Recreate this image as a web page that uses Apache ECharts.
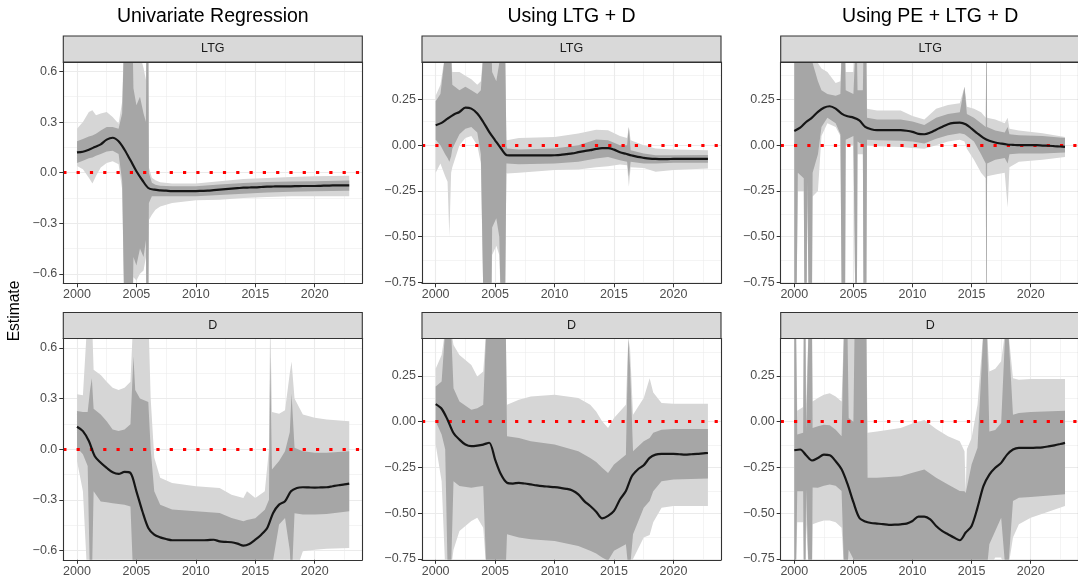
<!DOCTYPE html>
<html><head><meta charset="utf-8">
<script src="https://cdn.jsdelivr.net/npm/echarts@6/dist/echarts.min.js"></script>
<style>html,body{margin:0;padding:0;background:#fff}#c{width:1078px;height:580px}</style>
</head><body><div id="c"></div>
<script>
// ---------- text / ticks ----------
const columnTitles = ['Univariate Regression', 'Using LTG + D', 'Using PE + LTG + D'];
const rowLabels = ['LTG', 'D'];
const yTitle = 'Estimate';
const xTicks = [2000, 2005, 2010, 2015, 2020];
const xMinor = [2002.5, 2007.5, 2012.5, 2017.5, 2022.5];
const yTicksUni = [-0.6, -0.3, 0, 0.3, 0.6];
const yMinorUni = [-0.45, -0.15, 0.15, 0.45];
const yTicksMulti = [-0.75, -0.5, -0.25, 0, 0.25];
const yMinorMulti = [-0.625, -0.375, -0.125, 0.125, 0.375];

// ---------- point estimates (black line) ----------
const lineYears = [2000,2000.5,2001,2001.5,2002,2002.5,2003,2003.5,2004,2004.5,2005,2005.5,2006,2006.5,2007,2007.5,2008,2008.5,2009,2009.5,2010,2010.5,2011,2011.5,2012,2012.5,2013,2013.5,2014,2014.5,2015,2015.5,2016,2016.5,2017,2017.5,2018,2018.5,2019,2019.5,2020,2020.5,2021,2021.5,2022,2022.5,2022.9];
const lineLtgUni = [0.120,0.124,0.136,0.152,0.168,0.196,0.207,0.186,0.136,0.073,0.008,-0.045,-0.091,-0.101,-0.105,-0.107,-0.109,-0.109,-0.109,-0.109,-0.109,-0.108,-0.107,-0.104,-0.101,-0.098,-0.095,-0.092,-0.089,-0.088,-0.087,-0.085,-0.083,-0.082,-0.081,-0.081,-0.081,-0.080,-0.079,-0.079,-0.079,-0.078,-0.077,-0.076,-0.075,-0.075,-0.075];
const lineLtgMulti = [0.109,0.122,0.145,0.167,0.182,0.205,0.200,0.173,0.127,0.073,0.027,-0.018,-0.055,-0.056,-0.055,-0.056,-0.056,-0.056,-0.056,-0.056,-0.055,-0.053,-0.049,-0.045,-0.038,-0.032,-0.027,-0.020,-0.016,-0.016,-0.024,-0.038,-0.047,-0.056,-0.064,-0.069,-0.073,-0.075,-0.076,-0.076,-0.075,-0.075,-0.075,-0.075,-0.075,-0.075,-0.075];
const lineLtgPe = [0.078,0.096,0.127,0.151,0.182,0.205,0.213,0.200,0.173,0.158,0.151,0.136,0.100,0.087,0.082,0.082,0.082,0.082,0.082,0.079,0.073,0.062,0.060,0.069,0.085,0.100,0.115,0.122,0.124,0.115,0.091,0.064,0.040,0.024,0.015,0.009,0.004,0.002,0.000,0.000,0.000,0.000,-0.002,-0.003,-0.005,-0.007,-0.009];
const lineDUni = [0.133,0.107,0.048,-0.042,-0.081,-0.111,-0.137,-0.147,-0.135,-0.141,-0.250,-0.368,-0.467,-0.507,-0.523,-0.533,-0.540,-0.540,-0.540,-0.540,-0.540,-0.540,-0.539,-0.537,-0.547,-0.550,-0.552,-0.560,-0.572,-0.562,-0.537,-0.507,-0.467,-0.378,-0.329,-0.309,-0.250,-0.230,-0.226,-0.227,-0.228,-0.227,-0.226,-0.220,-0.214,-0.209,-0.204];
const lineDMulti = [0.096,0.071,0.011,-0.062,-0.098,-0.125,-0.134,-0.131,-0.125,-0.115,-0.207,-0.289,-0.334,-0.338,-0.334,-0.338,-0.343,-0.348,-0.352,-0.355,-0.358,-0.362,-0.367,-0.376,-0.397,-0.434,-0.461,-0.492,-0.528,-0.515,-0.488,-0.425,-0.379,-0.298,-0.261,-0.238,-0.198,-0.180,-0.176,-0.176,-0.176,-0.178,-0.180,-0.178,-0.176,-0.173,-0.171];
const lineDPe = [-0.156,-0.152,-0.183,-0.212,-0.198,-0.180,-0.183,-0.216,-0.260,-0.340,-0.440,-0.525,-0.546,-0.554,-0.557,-0.560,-0.564,-0.563,-0.561,-0.557,-0.543,-0.519,-0.519,-0.534,-0.570,-0.597,-0.615,-0.633,-0.648,-0.606,-0.570,-0.470,-0.352,-0.289,-0.252,-0.225,-0.180,-0.152,-0.143,-0.143,-0.143,-0.142,-0.140,-0.135,-0.129,-0.122,-0.116];

// ---------- confidence bands: [year, outerLow, innerLow, innerHigh, outerHigh] ----------
const bandLtgUni = [
 [2000,0.04,0.057,0.186,0.26],[2000.5,0.02,0.07,0.20,0.30],[2001,-0.03,0.085,0.215,0.36],[2001.3,-0.065,0.09,0.22,0.37],
 [2001.6,-0.02,0.10,0.23,0.34],[2002,0.03,0.11,0.25,0.35],[2002.5,0.057,0.125,0.27,0.36],[2003,0.067,0.13,0.27,0.33],
 [2003.5,0.05,0.11,0.26,0.29],[2003.8,-0.10,-0.05,0.35,0.42],[2004.0,-0.9,-0.9,0.9,0.9],[2004.65,-0.9,-0.9,0.9,0.9],
 [2004.75,-0.62,-0.5,0.5,0.7],[2005.0,-0.64,-0.55,0.4,0.66],[2005.3,-0.6,-0.45,0.45,0.7],[2005.6,-0.58,-0.5,0.35,0.62],
 [2005.8,-0.5,-0.4,0.3,0.55],[2005.85,-0.9,-0.9,0.9,0.9],[2006.0,-0.9,-0.9,0.9,0.9],[2006.05,-0.28,-0.18,0.0,0.03],
 [2006.3,-0.25,-0.14,-0.06,-0.03],[2006.6,-0.22,-0.14,-0.072,-0.045],[2007,-0.20,-0.14,-0.077,-0.057],[2008,-0.18,-0.14,-0.08,-0.065],
 [2010,-0.164,-0.14,-0.081,-0.065],[2012,-0.16,-0.133,-0.07,-0.051],[2014,-0.15,-0.125,-0.062,-0.038],[2016,-0.144,-0.118,-0.056,-0.032],
 [2018,-0.14,-0.113,-0.053,-0.026],[2020,-0.14,-0.11,-0.051,-0.022],[2022.9,-0.14,-0.107,-0.047,-0.018]
];
const bandLtgMulti = [
 [2000,-0.15,0.03,0.24,0.27],[2000.4,-0.1,0.0,0.28,0.33],[2000.8,-0.17,-0.05,0.5,0.5],[2001.0,-0.2,-0.07,0.5,0.5],
 [2001.15,-0.5,-0.09,0.5,0.5],[2001.3,-0.15,-0.06,0.5,0.5],[2001.4,-0.12,-0.02,0.33,0.40],[2002,0.0,0.06,0.30,0.40],[2002.5,0.04,0.09,0.32,0.38],
 [2003,0.05,0.10,0.30,0.36],[2003.5,0.0,0.07,0.28,0.33],[2003.8,-0.10,-0.05,0.30,0.35],[2004.0,-0.8,-0.8,0.5,0.5],
 [2004.7,-0.8,-0.8,0.5,0.5],[2004.75,-0.6,-0.45,0.40,0.5],[2005.1,-0.55,-0.40,0.35,0.5],[2005.35,-0.6,-0.5,0.45,0.5],
 [2005.45,-0.8,-0.8,0.5,0.5],[2005.85,-0.8,-0.8,0.5,0.5],[2005.95,-0.15,-0.10,0.0,0.03],[2006,-0.155,-0.10,-0.018,0.027],
 [2007,-0.15,-0.104,-0.024,0.04],[2010,-0.136,-0.10,-0.018,0.045],[2012,-0.133,-0.09,0.0,0.064],[2013.5,-0.12,-0.073,0.031,0.085],
 [2014.5,-0.115,-0.064,0.027,0.082],[2015.5,-0.105,-0.082,0.0,0.05],[2016.1,-0.11,-0.09,0.0,0.04],[2016.25,-0.227,-0.173,0.10,0.10],
 [2016.4,-0.12,-0.09,-0.027,0.027],[2017.5,-0.125,-0.10,-0.045,0.0],[2018.5,-0.145,-0.10,-0.055,-0.018],[2020,-0.136,-0.096,-0.055,-0.024],
 [2022.9,-0.127,-0.096,-0.053,-0.027]
];
const bandLtgPe = [
 [2000.0,-0.8,-0.8,0.5,0.5],[2000.2,-0.8,-0.8,0.5,0.5],[2000.3,-0.25,-0.15,0.5,0.5],[2000.8,-0.25,-0.18,0.5,0.5],
 [2000.85,-0.8,-0.8,0.5,0.5],[2001.05,-0.8,-0.8,0.5,0.5],[2001.1,-0.3,-0.2,0.5,0.5],[2001.2,-0.8,-0.8,0.5,0.5],
 [2001.5,-0.8,-0.8,0.5,0.5],[2001.55,-0.28,-0.15,0.45,0.5],[2002.0,-0.25,-0.05,0.35,0.45],[2002.3,0.05,0.1,0.30,0.42],
 [2002.8,0.12,0.15,0.28,0.40],[2003.5,0.10,0.12,0.27,0.34],[2003.9,0.05,0.06,0.28,0.35],[2004.0,-0.8,-0.8,0.5,0.5],
 [2004.3,-0.8,-0.8,0.5,0.5],[2004.35,0.0,0.03,0.30,0.40],[2005.0,0.0,0.05,0.28,0.40],[2005.15,-0.8,-0.8,0.5,0.5],
 [2005.3,-0.8,-0.8,0.5,0.5],[2005.35,-0.05,0.02,0.30,0.45],[2005.8,-0.05,0.0,0.30,0.45],[2005.85,-0.8,-0.8,0.5,0.5],
 [2006.1,-0.8,-0.8,0.5,0.5],[2006.15,0.0,0.03,0.15,0.20],[2007,-0.005,0.027,0.14,0.19],[2009,-0.01,0.025,0.14,0.19],
 [2010,-0.015,0.02,0.13,0.16],[2011,-0.02,0.01,0.11,0.14],[2012,0.0,0.035,0.15,0.20],[2013,0.02,0.055,0.17,0.22],
 [2014,0.03,0.065,0.18,0.23],[2014.4,0.02,0.06,0.32,0.32],[2014.6,-0.02,0.05,0.17,0.21],[2015.2,-0.08,0.02,0.15,0.20],
 [2015.8,-0.15,-0.05,0.12,0.18],[2016.2,-0.18,-0.10,0.10,0.15],[2016.23,-0.8,-0.8,0.5,0.5],[2016.28,-0.8,-0.8,0.5,0.5],[2016.31,-0.17,-0.10,0.10,0.15],
 [2017,-0.16,-0.08,0.08,0.14],[2017.8,-0.15,-0.07,0.07,0.12],[2018.05,-0.34,-0.10,0.10,0.15],[2018.2,-0.12,-0.05,0.06,0.09],
 [2019,-0.09,-0.045,0.055,0.08],[2021,-0.08,-0.045,0.05,0.065],[2022.9,-0.065,-0.04,0.04,0.045]
];
const bandDUni = [
 [2000,-0.07,0.008,0.226,0.325],[2000.5,-0.25,-0.03,0.22,0.32],[2000.9,-0.8,-0.10,0.22,0.8],[2001.1,-0.8,-0.8,0.35,0.8],
 [2001.25,-0.8,-0.8,0.42,0.8],[2001.4,-0.8,-0.25,0.24,0.47],[2002,-0.8,-0.31,0.206,0.44],[2002.5,-0.8,-0.315,0.166,0.40],
 [2003,-0.8,-0.32,0.117,0.364],[2003.5,-0.8,-0.325,0.107,0.35],[2004,-0.8,-0.33,0.117,0.364],[2004.5,-0.8,-0.34,0.147,0.40],
 [2004.75,-0.8,-0.8,0.55,0.8],[2004.9,-0.8,-0.8,0.35,0.8],[2005.3,-0.8,-0.8,0.30,0.8],[2006.0,-0.8,-0.8,0.28,0.8],
 [2006.2,-0.8,-0.8,0.0,0.3],[2006.5,-0.8,-0.8,-0.25,-0.05],[2007,-0.8,-0.8,-0.33,-0.17],[2008,-0.8,-0.8,-0.358,-0.20],
 [2010,-0.8,-0.8,-0.368,-0.22],[2012,-0.8,-0.8,-0.378,-0.23],[2013,-0.8,-0.8,-0.408,-0.27],[2014,-0.8,-0.8,-0.428,-0.29],
 [2014.3,-0.8,-0.8,-0.42,-0.25],[2015,-0.8,-0.8,-0.41,-0.29],[2015.8,-0.8,-0.8,-0.36,-0.25],[2016.15,-0.8,-0.8,-0.30,0.0],
 [2016.25,-0.8,-0.8,0.55,0.8],[2016.4,-0.8,-0.7,-0.12,0.22],[2017,-0.8,-0.447,-0.07,0.21],[2017.5,-0.8,-0.408,-0.012,0.23],
 [2017.9,-0.8,-0.6,0.1,0.45],[2018.05,-0.8,-0.8,0.33,0.52],[2018.3,-0.75,-0.38,0.008,0.30],[2019,-0.606,-0.388,-0.012,0.206],
 [2020,-0.596,-0.388,-0.022,0.186],[2021,-0.59,-0.384,-0.022,0.176],[2022.9,-0.586,-0.368,-0.012,0.166]
];
const bandDMulti = [
 [2000,-0.125,0.002,0.192,0.29],[2000.5,-0.325,-0.07,0.22,0.365],[2000.8,-0.8,-0.15,0.5,0.5],[2001.0,-0.8,-0.8,0.5,0.5],
 [2001.3,-0.8,-0.8,0.5,0.5],[2001.5,-0.7,-0.325,0.183,0.42],[2002,-0.597,-0.352,0.11,0.365],[2003,-0.543,-0.361,0.065,0.31],
 [2003.5,-0.525,-0.355,0.074,0.247],[2004,-0.58,-0.352,0.093,0.274],[2004.25,-0.8,-0.8,0.5,0.5],[2005.9,-0.8,-0.8,0.5,0.5],
 [2006.0,-0.8,-0.615,-0.08,0.093],[2007,-0.8,-0.633,-0.089,0.12],[2008,-0.8,-0.642,-0.107,0.138],[2010,-0.8,-0.652,-0.125,0.147],
 [2012,-0.8,-0.679,-0.162,0.129],[2013,-0.8,-0.706,-0.198,0.093],[2013.5,-0.8,-0.72,-0.22,0.056],[2014,-0.8,-0.742,-0.252,0.002],
 [2014.5,-0.8,-0.76,-0.28,-0.034],[2015,-0.8,-0.706,-0.234,0.02],[2016,-0.8,-0.67,-0.18,0.093],[2016.2,-0.8,-0.8,0.456,0.456],
 [2016.35,-0.8,-0.8,0.3,0.4],[2016.6,-0.75,-0.615,-0.162,0.038],[2017.5,-0.633,-0.47,-0.107,0.129],[2018.0,-0.62,-0.434,-0.089,0.238],
 [2018.3,-0.55,-0.38,-0.06,0.16],[2019,-0.47,-0.325,-0.044,0.102],[2020,-0.461,-0.316,-0.04,0.098],[2022.9,-0.461,-0.31,-0.04,0.098]
];
const bandDPe = [
 [2000.0,-0.8,-0.8,0.5,0.5],[2000.15,-0.8,-0.8,0.5,0.5],[2000.25,-0.55,-0.38,-0.07,0.06],[2000.75,-0.55,-0.38,-0.06,0.08],
 [2000.8,-0.8,-0.8,0.5,0.5],[2000.95,-0.8,-0.8,0.5,0.5],[2001.0,-0.56,-0.37,-0.053,0.10],[2001.2,-0.8,-0.8,0.5,0.5],
 [2001.5,-0.8,-0.8,0.5,0.5],[2001.55,-0.56,-0.36,-0.034,0.11],[2002,-0.55,-0.361,-0.025,0.129],[2002.5,-0.54,-0.35,-0.016,0.147],
 [2003,-0.54,-0.343,-0.02,0.156],[2003.5,-0.55,-0.35,-0.044,0.138],[2004,-0.58,-0.379,-0.08,0.111],[2004.2,-0.8,-0.8,0.5,0.5],
 [2004.5,-0.8,-0.8,0.5,0.5],[2004.6,-0.8,-0.7,0.02,0.5],[2005.0,-0.8,-0.75,0.0,0.5],[2005.1,-0.8,-0.8,0.5,0.5],
 [2006.1,-0.8,-0.8,0.5,0.5],[2006.2,-0.8,-0.8,-0.307,-0.06],[2007,-0.8,-0.8,-0.307,-0.053],[2009,-0.8,-0.8,-0.298,-0.034],
 [2010,-0.8,-0.8,-0.279,-0.01],[2011,-0.8,-0.8,-0.261,0.01],[2012,-0.8,-0.8,-0.307,-0.04],[2013,-0.8,-0.8,-0.343,-0.08],
 [2014,-0.8,-0.8,-0.379,-0.107],[2014.4,-0.8,-0.8,-0.38,-0.162],[2014.5,-0.8,-0.8,-0.39,-0.38],[2014.6,-0.8,-0.8,-0.36,-0.15],
 [2015,-0.8,-0.8,-0.234,-0.089],[2015.5,-0.8,-0.8,-0.143,0.093],[2016.0,-0.8,-0.8,0.5,0.5],[2016.3,-0.8,-0.8,0.5,0.5],
 [2016.5,-0.8,-0.67,-0.053,0.274],[2017,-0.742,-0.597,-0.045,0.29],[2017.5,-0.742,-0.525,-0.007,0.33],[2017.85,-0.8,-0.8,0.5,0.5],
 [2018.1,-0.8,-0.8,0.5,0.5],[2018.5,-0.633,-0.434,0.038,0.238],[2019,-0.561,-0.416,0.047,0.229],[2020,-0.525,-0.412,0.053,0.234],
 [2022.9,-0.461,-0.397,0.06,0.234]
];

// ---------- layout / style ----------
const FONT = '"Liberation Sans", Arial, Helvetica, sans-serif';
const gridLeft = [63.3, 422, 780.7];
const gridTop = [62, 338.5];
const stripTop = [36, 312.5];
const gridW = 299, gridH = 221.3, stripH = 26;
const xMin = 1998.85, xMax = 2024.0;
const yRange = [[-0.656, 0.656], [-0.755, 0.455], [-0.755, 0.455]];
const outerColor = '#d6d6d6', innerColor = '#a6a6a6';

const panels = [
  {r:0, c:0, line:lineLtgUni, band:bandLtgUni},
  {r:0, c:1, line:lineLtgMulti, band:bandLtgMulti},
  {r:0, c:2, line:lineLtgPe, band:bandLtgPe},
  {r:1, c:0, line:lineDUni, band:bandDUni},
  {r:1, c:1, line:lineDMulti, band:bandDMulti},
  {r:1, c:2, line:lineDPe, band:bandDPe}
];

const fmt = (dec) => (v) => (v < -1e-9 ? '\u2212' : '') + Math.abs(v).toFixed(dec);

// band polygon drawn through the axis scales (api.coord), clipped to the grid
function bandSeries(band, loIdx, hiIdx, color, xa, ya, z) {
  return {
    type:'custom', xAxisIndex:xa, yAxisIndex:ya, z:z, silent:true, clip:true,
    data:band, encode:{x:0, y:hiIdx},
    renderItem: function (params, api) {
      if (params.dataIndex !== 0) return null;
      const pts = [];
      for (let k = 0; k < band.length; k++) pts.push(api.coord([band[k][0], band[k][hiIdx]]));
      for (let k = band.length - 1; k >= 0; k--) pts.push(api.coord([band[k][0], band[k][loIdx]]));
      return {type:'polygon', shape:{points:pts}, style:{fill:color, stroke:null}, silent:true};
    }
  };
}

const grids = [], xAxes = [], yAxes = [], series = [], graphics = [];
const frameLine = {show:true, onZero:false, lineStyle:{color:'#333333', width:1.1}};

panels.forEach((p, i) => {
  const uni = p.c === 0;
  const yT = uni ? yTicksUni : yTicksMulti;
  const yM = uni ? yMinorUni : yMinorMulti;
  grids.push({left:gridLeft[p.c], top:gridTop[p.r], width:gridW, height:gridH, containLabel:false});
  xAxes.push({gridIndex:i, type:'value', position:'bottom', min:xMin, max:xMax, z:10,
    axisLine:frameLine, splitLine:{show:false},
    axisTick:{show:true, customValues:xTicks, length:4, lineStyle:{color:'#333333', width:1}},
    axisLabel:{customValues:xTicks, formatter:(v) => String(Math.round(v)), color:'#4d4d4d', fontSize:12.5, fontFamily:FONT, margin:5}});
  xAxes.push({gridIndex:i, type:'value', position:'top', min:xMin, max:xMax, z:10,
    axisLine:frameLine, splitLine:{show:false}, axisTick:{show:false}, axisLabel:{show:false}});
  yAxes.push({gridIndex:i, type:'value', position:'left', min:yRange[p.c][0], max:yRange[p.c][1], z:10,
    axisLine:frameLine, splitLine:{show:false},
    axisTick:{show:true, customValues:yT, length:4, lineStyle:{color:'#333333', width:1}},
    axisLabel:{customValues:yT, formatter:fmt(uni ? 1 : 2), color:'#4d4d4d', fontSize:12.5, fontFamily:FONT, margin:6}});
  yAxes.push({gridIndex:i, type:'value', position:'right', min:yRange[p.c][0], max:yRange[p.c][1], z:10,
    axisLine:frameLine, splitLine:{show:false}, axisTick:{show:false}, axisLabel:{show:false}});
  const xa = 2*i, ya = 2*i;
  const major = {color:'#ebebeb', width:1.1, type:'solid'};
  const minor = {color:'#ebebeb', width:0.55, type:'solid'};
  // gridlines (under the bands)
  series.push({type:'line', xAxisIndex:xa, yAxisIndex:ya, data:[], z:1, silent:true,
    markLine:{z:1, silent:true, symbol:['none','none'], label:{show:false}, animation:false,
      data:[].concat(
        xMinor.map(v => ({xAxis:v, lineStyle:minor})),
        yM.map(v => ({yAxis:v, lineStyle:minor})),
        xTicks.map(v => ({xAxis:v, lineStyle:major})),
        yT.map(v => ({yAxis:v, lineStyle:major})))}});
  // outer and inner bands
  series.push(bandSeries(p.band, 1, 4, outerColor, xa, ya, 2));
  series.push(bandSeries(p.band, 2, 3, innerColor, xa, ya, 3));
  // zero reference line
  series.push({type:'line', xAxisIndex:xa, yAxisIndex:ya, data:[], z:4, silent:true,
    markLine:{z:4, silent:true, symbol:['none','none'], label:{show:false}, animation:false,
      data:[{yAxis:0}], lineStyle:{color:'#ff0000', width:3.2, type:[3.2, 10.1], cap:'butt'}}});
  // estimate line
  series.push({type:'line', xAxisIndex:xa, yAxisIndex:ya, z:5, silent:true, symbol:'none', smooth:0.3,
    lineStyle:{color:'#151515', width:2.2}, data:lineYears.map((x, k) => [x, p.line[k]])});
  // facet strip
  graphics.push({type:'rect', shape:{x:gridLeft[p.c], y:stripTop[p.r], width:gridW, height:stripH},
    style:{fill:'#d9d9d9', stroke:'#333333', lineWidth:1.1}, z:20});
  graphics.push({type:'text', x:gridLeft[p.c] + gridW/2, y:stripTop[p.r] + stripH/2,
    style:{text:rowLabels[p.r], fill:'#1a1a1a', font:'12.5px ' + FONT, align:'center', verticalAlign:'middle',
      textAlign:'center', textVerticalAlign:'middle'}, z:21});
});

columnTitles.forEach((t, c) => {
  graphics.push({type:'text', x:gridLeft[c] + gridW/2, y:17,
    style:{text:t, fill:'#000000', font:'19.5px ' + FONT, align:'center', verticalAlign:'middle',
      textAlign:'center', textVerticalAlign:'middle'}, z:21});
});
graphics.push({type:'text', x:15, y:311, rotation:Math.PI/2,
  style:{text:yTitle, fill:'#000000', font:'15.6px ' + FONT, align:'center', verticalAlign:'middle',
    textAlign:'center', textVerticalAlign:'middle'}, z:21});

const chart = echarts.init(document.getElementById('c'), null, {renderer:'canvas'});
chart.setOption({
  animation:false,
  backgroundColor:'#ffffff',
  textStyle:{fontFamily:FONT},
  grid:grids, xAxis:xAxes, yAxis:yAxes, series:series, graphic:{elements:graphics}
});
</script></body></html>
